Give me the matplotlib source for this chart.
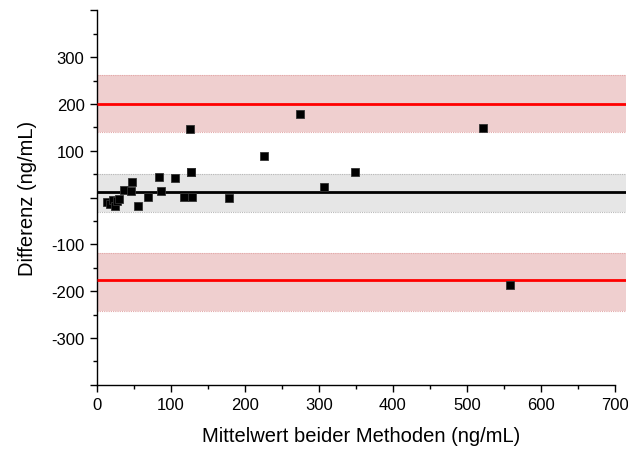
import numpy as np
import matplotlib
matplotlib.use("Agg")
import matplotlib.pyplot as plt
from matplotlib.ticker import MultipleLocator, FixedLocator, FuncFormatter

plt.rcParams["font.family"] = ["Liberation Sans", "DejaVu Sans"]

# Mittelwert (x) und Differenz (y) der Messpunkte
mittelwert = [14, 18, 21, 24, 27, 30, 37, 45.5, 47.5, 56, 68.5, 84, 86,
              105, 118, 126, 126.5, 127, 128, 178, 225.5, 275, 307, 348.5,
              521.5, 558]
differenz = [-10, -14, -6, -17, -8, -3, 16, 14.5, 32.5, -17.5, 0.5, 45, 14.5,
             41.5, 1.5, 146, 54.5, 54, 0.5, -1.5, 89, 178, 23, 55,
             148.5, -186]

# Bland-Altman Kennwerte: (Linie, KI unten, KI oben)
mean_diff = (12, -30, 50)
upper_loa = (200, 140, 262)
lower_loa = (-176, -242, -118)

fig = plt.figure(figsize=(6.28, 4.52), dpi=100)
ax = fig.add_axes([0.1545, 0.1467, 0.842, 0.828])

XMAX = 715
for (line, lo, hi), fc, ec, lc in [
        (upper_loa, "#efcfcf", "#e3a8a8", "#ff0000"),
        (lower_loa, "#efcfcf", "#e3a8a8", "#ff0000"),
        (mean_diff, "#e6e6e6", "#b8b8b8", "black")]:
    ax.fill_between([0, XMAX], lo, hi, color=fc, lw=0, zorder=1)
    ax.hlines([lo, hi], 0, XMAX, colors=ec, linestyles=(0, (1, 1)), lw=0.8, zorder=2)
    ax.hlines(line, 0, XMAX, colors=lc, lw=2.0, zorder=3)

ax.plot(mittelwert, differenz, "s", color="black", ms=6, mec="#333333",
        mew=0.6, zorder=5)

ax.set_xlim(0, XMAX)
ax.set_ylim(-400, 400)
ax.spines["top"].set_visible(False)
ax.spines["right"].set_visible(False)
ax.spines["bottom"].set_bounds(0, 700)
ax.spines["left"].set_linewidth(1.0)
ax.spines["bottom"].set_linewidth(1.0)

ax.xaxis.set_major_locator(FixedLocator(np.arange(0, 701, 100)))
ax.xaxis.set_minor_locator(FixedLocator(np.arange(50, 700, 100)))
ax.yaxis.set_major_locator(MultipleLocator(100))
ax.yaxis.set_minor_locator(MultipleLocator(50))
ax.yaxis.set_major_formatter(FuncFormatter(
    lambda v, p: "" if abs(v) < 1 or abs(v) > 350 else f"{v:.0f}"))

ax.tick_params(which="major", direction="out", length=5, width=1.0,
               labelsize=12, pad=4)
ax.tick_params(which="minor", direction="out", length=3, width=1.0)

ax.set_xlabel("Mittelwert beider Methoden (ng/mL)", fontsize=14.5, labelpad=10)
ax.set_ylabel("Differenz (ng/mL)", fontsize=14.5, labelpad=10)

fig.savefig("out.png", dpi=100, facecolor="white")
